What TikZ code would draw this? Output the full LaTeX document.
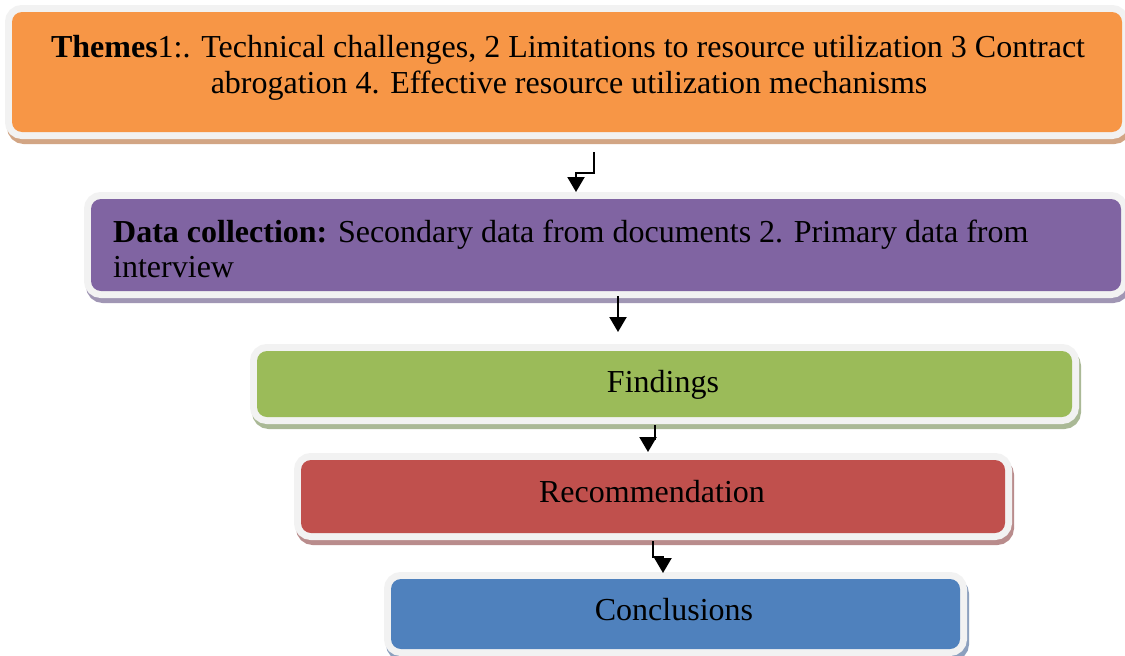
\documentclass[tikz,border=0pt]{standalone}
\usepackage{fontspec}
\setmainfont{Liberation Serif}
\usetikzlibrary{arrows.meta}
\definecolor{boxrim}{HTML}{F2F2F2}
\definecolor{orfill}{HTML}{F79646}
\definecolor{orshadow}{HTML}{D2A584}
\definecolor{pufill}{HTML}{8064A2}
\definecolor{pushadow}{HTML}{A096B4}
\definecolor{grfill}{HTML}{9BBB59}
\definecolor{grshadow}{HTML}{AAB996}
\definecolor{rdfill}{HTML}{C0504D}
\definecolor{rdshadow}{HTML}{B98C8C}
\definecolor{blfill}{HTML}{4F81BD}
\definecolor{blshadow}{HTML}{8CA0BE}
\tikzset{
  flowbox/.style 2 args={rounded corners=10pt, fill=#1, inner sep=0pt, outer sep=0pt,
    preaction={fill=#2, draw=#2, line width=14pt, transform canvas={shift={(2pt,-5pt)}}},
    preaction={fill=boxrim, draw=boxrim, line width=14pt}},
  boxtext/.style={inner sep=0pt, font=\fontsize{32}{36}\selectfont},
  flowarrow/.style={line width=2.2pt, -{Triangle[width=17pt,length=15pt]}},
}
\begin{document}
\begin{tikzpicture}[x=1pt,y=-1pt]
\clip (0,0) rectangle (1125,656);
\useasboundingbox (0,0) rectangle (1125,656);
\fill[white] (0,0) rectangle (1125,656);
% boxes
\node[flowbox={orfill}{orshadow}, minimum width=1110pt, minimum height=120pt] (themes) at (567,72) {};
\node[flowbox={pufill}{pushadow}, minimum width=1030pt, minimum height=92pt] (data) at (606,245) {};
\node[flowbox={grfill}{grshadow}, minimum width=815pt, minimum height=66pt] (findings) at (664.5,384) {};
\node[flowbox={rdfill}{rdshadow}, minimum width=704pt, minimum height=73pt] (recom) at (653,496.5) {};
\node[flowbox={blfill}{blshadow}, minimum width=569pt, minimum height=70pt] (concl) at (675.5,614) {};
% texts
\node[boxtext, anchor=base] (themesA) at (568,57) {\textbf{Themes}1:. Technical challenges, 2 Limitations to resource utilization 3 Contract};
\node[boxtext, anchor=base] (themesB) at (569,93) {abrogation 4. Effective resource utilization mechanisms};
\node[boxtext, anchor=base west] (dataA) at (113,242) {\textbf{Data collection:} Secondary data from documents 2. Primary data from};
\node[boxtext, anchor=base west] (dataB) at (113,277) {interview};
\node[boxtext, anchor=base] (findingsT) at (663,392) {Findings};
\node[boxtext, anchor=base] (recomT) at (652,502) {Recommendation};
\node[boxtext, anchor=base] (conclT) at (674,620) {Conclusions};
% arrow coordinates
\coordinate (a1s) at (594,152);
\coordinate (a1m) at (594,173);
\coordinate (a1e) at (576,192);
\coordinate (a2s) at (618,296);
\coordinate (a2e) at (618,332);
\coordinate (a3s) at (655,425);
\coordinate (a3m) at (655,439);
\coordinate (a3e) at (648,452);
\coordinate (a4s) at (653,541);
\coordinate (a4m) at (653,557);
\coordinate (a4e) at (663,573);
\draw[flowarrow] (a1s) -- (a1m) -| (a1e);
\draw[flowarrow] (a2s) -- (a2e);
\draw[flowarrow] (a3s) -- (a3m) -| (a3e);
\draw[flowarrow] (a4s) -- (a4m) -| (a4e);
\end{tikzpicture}
\end{document}
